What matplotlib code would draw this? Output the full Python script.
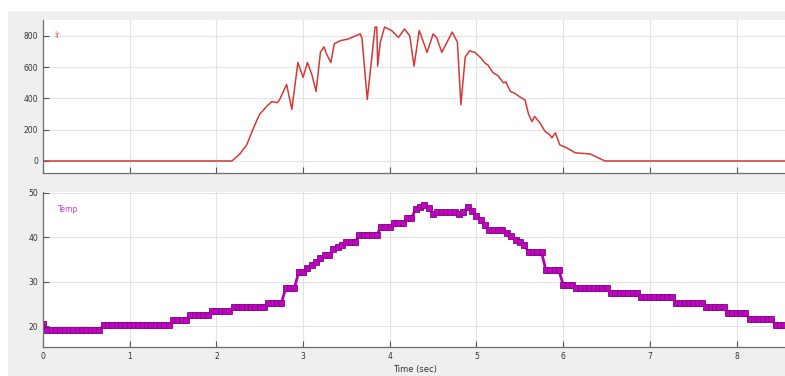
import numpy as np
import matplotlib
matplotlib.use("Agg")
import matplotlib.pyplot as plt
from matplotlib.patches import Rectangle

# ---- Data: irradiance (Ir) ----
ir_time = [0.0, 2.18, 2.27, 2.35, 2.42, 2.47, 2.50, 2.55, 2.58, 2.64, 2.70, 2.73,
           2.81, 2.87, 2.94, 3.00, 3.05, 3.10, 3.15, 3.20, 3.24, 3.27, 3.32, 3.36,
           3.43, 3.52, 3.60, 3.66, 3.68, 3.74, 3.79, 3.83, 3.85, 3.86, 3.89, 3.94,
           4.02, 4.10, 4.17, 4.23, 4.28, 4.34, 4.43, 4.50, 4.54, 4.60, 4.72, 4.78,
           4.82, 4.87, 4.92, 4.98, 5.05, 5.10, 5.13, 5.19, 5.25, 5.31, 5.34, 5.39,
           5.45, 5.50, 5.56, 5.60, 5.64, 5.67, 5.73, 5.79, 5.84, 5.87, 5.91, 5.96,
           6.04, 6.14, 6.31, 6.48, 8.57]
ir_vals = [0, 0, 45, 103, 200, 265, 300, 330, 350, 380, 373, 393,
           490, 330, 630, 535, 630, 555, 445, 695, 730, 685, 630, 750,
           770, 780, 800, 813, 780, 393, 650, 857, 857, 607, 760, 857,
           835, 790, 845, 800, 607, 835, 695, 813, 790, 695, 825, 760,
           360, 665, 705, 695, 660, 625, 615, 565, 545, 500, 505, 445,
           430, 410, 390, 300, 252, 285, 245, 190, 170, 148, 180, 103,
           84, 52, 45, 0, 0]

# ---- Data: temperature (Temp), sampled every 0.05 s ----
temp_dt = 0.05
temp_vals = [
    20.4, 19.1, 19.1, 19.1, 19.1, 19.1, 19.1, 19.1, 19.1, 19.1,
    19.1, 19.1, 19.1, 19.1, 20.2, 20.2, 20.2, 20.2, 20.2, 20.2,
    20.2, 20.2, 20.2, 20.2, 20.2, 20.2, 20.2, 20.2, 20.2, 20.2,
    21.3, 21.3, 21.3, 21.3, 22.5, 22.5, 22.5, 22.5, 22.5, 23.4,
    23.4, 23.4, 23.4, 23.4, 24.3, 24.3, 24.3, 24.3, 24.3, 24.3,
    24.3, 24.3, 25.2, 25.2, 25.2, 25.2, 28.6, 28.6, 28.6, 32.2,
    32.2, 33.0, 33.8, 34.5, 35.3, 36.0, 36.0, 37.4, 37.8, 38.2,
    39.0, 39.0, 39.0, 40.5, 40.5, 40.5, 40.5, 40.5, 42.3, 42.3,
    42.3, 43.2, 43.2, 43.2, 44.3, 44.3, 46.4, 46.8, 47.2, 46.6,
    45.2, 45.7, 45.7, 45.7, 45.7, 45.7, 45.3, 45.7, 46.8, 46.0,
    44.9, 43.8, 42.7, 41.7, 41.7, 41.7, 41.7, 41.0, 40.2, 39.5,
    38.9, 38.3, 36.7, 36.7, 36.7, 36.7, 32.6, 32.6, 32.6, 32.6,
    29.3, 29.3, 29.3, 28.6, 28.6, 28.6, 28.6, 28.6, 28.6, 28.6,
    28.6, 27.4, 27.4, 27.4, 27.4, 27.4, 27.4, 27.4, 26.5, 26.5,
    26.5, 26.5, 26.5, 26.5, 26.5, 26.5, 25.2, 25.2, 25.2, 25.2,
    25.2, 25.2, 25.2, 24.3, 24.3, 24.3, 24.3, 24.3, 22.9, 22.9,
    22.9, 22.9, 22.9, 21.6, 21.6, 21.6, 21.6, 21.6, 21.6, 20.2,
    20.2, 20.2,
]
temp_time = np.arange(len(temp_vals)) * temp_dt

x_ticks = [0, 1, 2, 3, 4, 5, 6, 7, 8]
ir_ticks = [0, 200, 400, 600, 800]
temp_ticks = [20, 30, 40, 50]

# ---- Figure ----
W, H = 785, 376
fig = plt.figure(figsize=(W / 100, H / 100), dpi=100, facecolor="#efefef")
fig.patches.append(Rectangle((0, 1 - 11 / H), 1, 11 / H, transform=fig.transFigure,
                             facecolor="white", edgecolor="none", zorder=0))
fig.patches.append(Rectangle((0, 0), 8 / W, 1, transform=fig.transFigure,
                             facecolor="white", edgecolor="none", zorder=0))

def px_axes(left, top, right, bottom):
    return fig.add_axes([left / W, 1 - bottom / H, (right - left) / W, (bottom - top) / H])

ax1 = px_axes(43, 20, 786, 173)
ax2 = px_axes(43, 192, 786, 347)

for ax in (ax1, ax2):
    ax.set_facecolor("white")
    ax.set_xlim(0, 8.57)
    ax.set_xticks(x_ticks)
    ax.grid(True, color="#e3e3e3", linewidth=0.8)
    ax.set_axisbelow(True)
    for s in ("top", "right"):
        ax.spines[s].set_visible(False)
    for s in ("left", "bottom"):
        ax.spines[s].set_color("#6e6e6e")
        ax.spines[s].set_linewidth(0.9)
    ax.tick_params(direction="in", length=4, width=0.8, colors="#555555",
                   labelsize=5.5, labelcolor="#333333")

ax1.plot(ir_time, ir_vals, color="#d63838", linewidth=1.1, label="Ir")
ax1.set_ylim(-77, 902)
ax1.set_yticks(ir_ticks)
ax1.tick_params(axis="x", labelbottom=False)
ax1.text(0.015, 0.9, "Ir", transform=ax1.transAxes, color="#e06060",
         fontsize=5.5, va="center", ha="left")

ax2.plot(temp_time, temp_vals, color="#b000b0", linewidth=2.0, marker="s",
         markersize=4.6, markerfacecolor="#c400c4", markeredgecolor="#7a0a7a",
         markeredgewidth=0.6, label="Temp")
ax2.set_ylim(15.3, 50.2)
ax2.set_yticks(temp_ticks)
ax2.text(0.02, 0.89, "Temp", transform=ax2.transAxes, color="#c040d0",
         fontsize=5.5, va="center", ha="left")
ax2.set_xlabel("Time (sec)", fontsize=6, color="#333333", labelpad=3)

fig.savefig("out.png", dpi=100, facecolor=fig.get_facecolor())
